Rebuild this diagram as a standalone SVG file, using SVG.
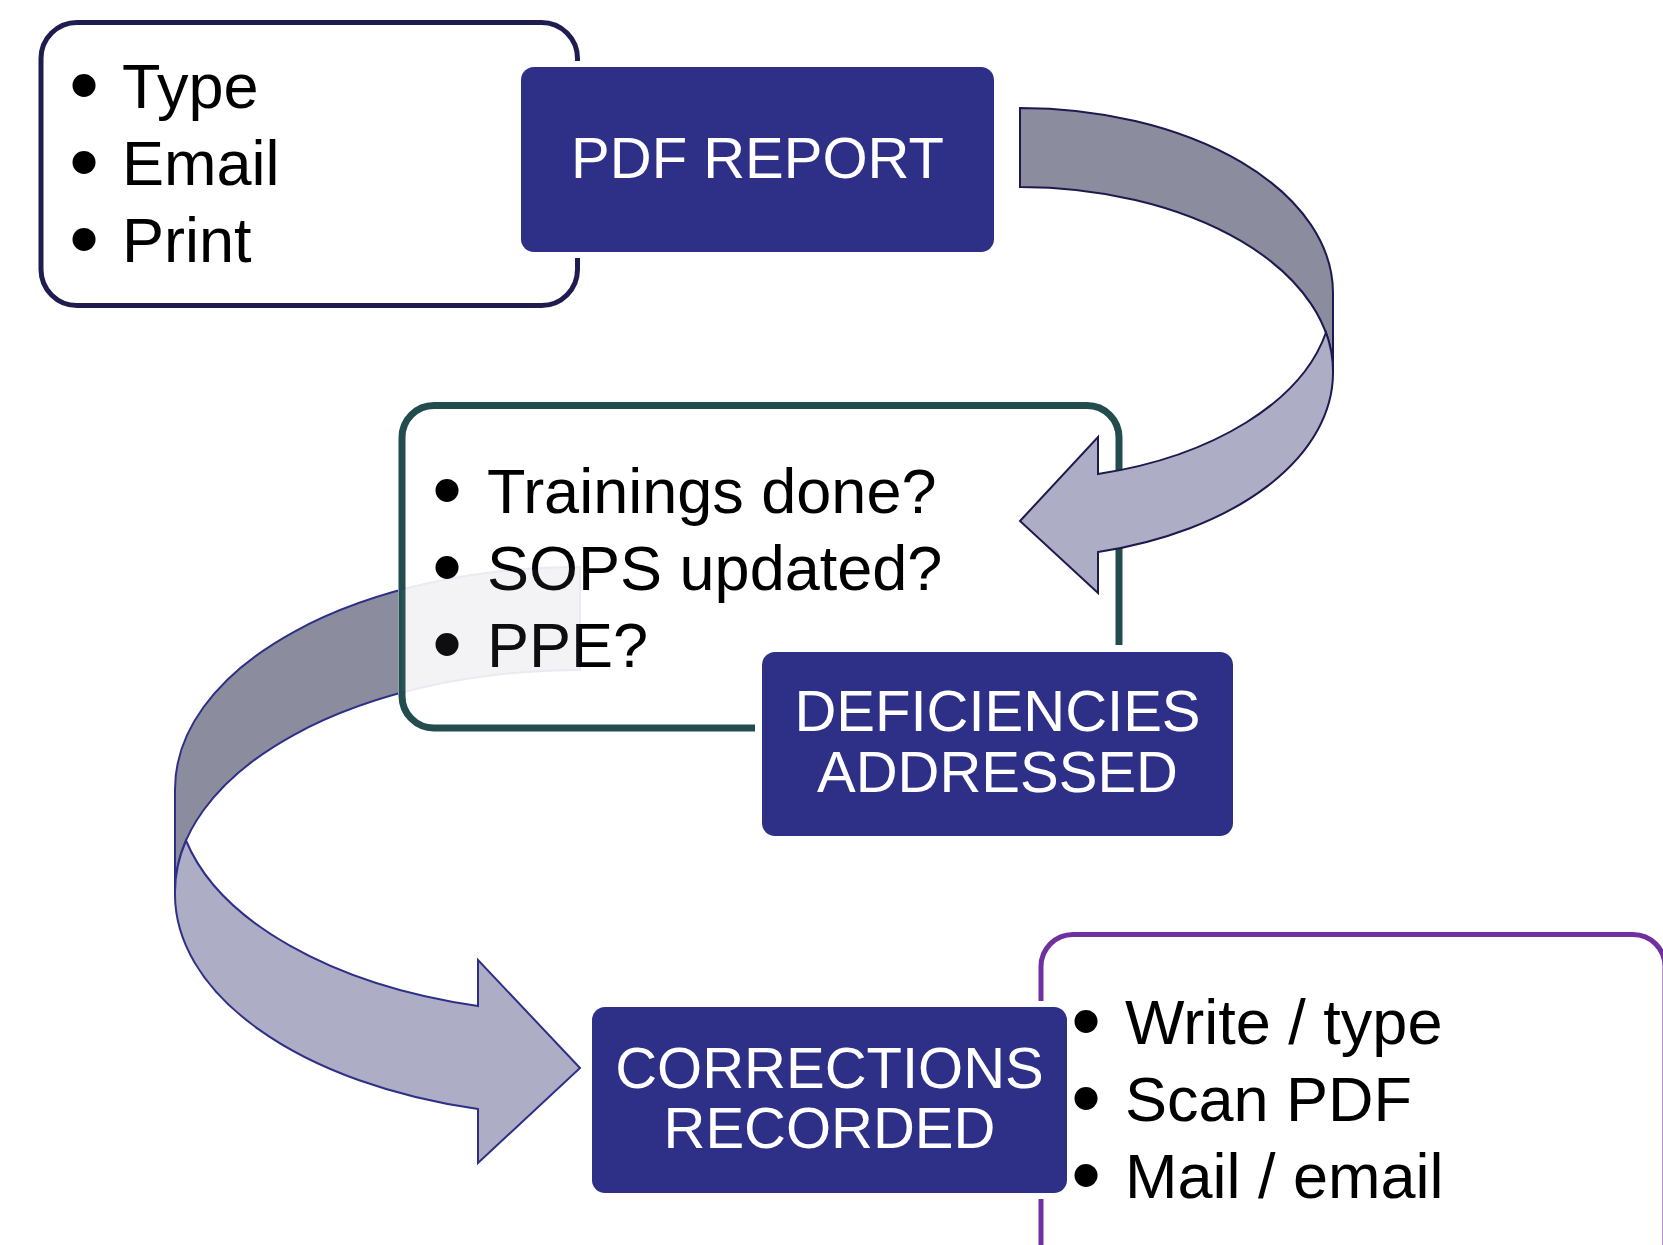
<svg xmlns="http://www.w3.org/2000/svg" width="1663" height="1245" viewBox="0 0 1663 1245">
<defs>
<style>
.li{font-family:"Liberation Sans",Arial,sans-serif;font-size:63px;fill:#000}
.bu{stroke:#000;stroke-width:6;stroke-linejoin:round}
.bt{font-family:"Liberation Sans",Arial,sans-serif;font-size:58px;fill:#fff;text-anchor:middle}
.blue{fill:#2e3088;stroke:#fff;stroke-width:12;paint-order:stroke}
.back{fill:#8b8c9d}
.front{fill:#adaec5}
</style>
<mask id="fade" maskUnits="userSpaceOnUse" x="0" y="0" width="1663" height="1245">
<rect x="0" y="0" width="1663" height="1245" fill="#fff"/>
<rect x="402" y="405.5" width="717" height="322.5" rx="32" fill="#000" stroke="#000" stroke-width="8"/>
<rect x="402" y="405.5" width="717" height="322.5" rx="32" fill="#fff" fill-opacity="0.1"/>
</mask>
</defs>
<rect width="1663" height="1245" fill="#fff"/>

<g id="list-output">
<rect x="41" y="22.5" width="536.5" height="283" rx="36" fill="#fff" stroke="#1f1c50" stroke-width="5"/>
<text class="li" y="108"><tspan class="bu" x="73" dy="-2.5">•</tspan><tspan x="122" dy="2.5">Type</tspan></text>
<text class="li" y="185"><tspan class="bu" x="73" dy="-2.5">•</tspan><tspan x="122" dy="2.5">Email</tspan></text>
<text class="li" y="262"><tspan class="bu" x="73" dy="-2.5">•</tspan><tspan x="122" dy="2.5">Print</tspan></text>
</g>
<g id="pdf-report">
<rect class="blue" x="521" y="67" width="473" height="185" rx="13"/>
<text class="bt" x="757.5" y="178">PDF REPORT</text>
</g>

<g id="list-deficiencies">
<rect x="402" y="405.5" width="717" height="322.5" rx="32" fill="#fff" stroke="#234c4f" stroke-width="7"/>
<text class="li" y="513"><tspan class="bu" x="436" dy="-2.5">•</tspan><tspan x="487" dy="2.5">Trainings done?</tspan></text>
<text class="li" y="590"><tspan class="bu" x="436" dy="-2.5">•</tspan><tspan x="487" dy="2.5">SOPS updated?</tspan></text>
<text class="li" y="667"><tspan class="bu" x="436" dy="-2.5">•</tspan><tspan x="487" dy="2.5">PPE?</tspan></text>
</g>
<g id="deficiencies-addressed">
<rect x="762" y="652" width="471" height="184" rx="13" fill="#2e3088" stroke="#fff" stroke-width="14" paint-order="stroke"/>
<text class="bt" x="997.5" y="731">DEFICIENCIES</text>
<text class="bt" x="997.5" y="792">ADDRESSED</text>
</g>

<g id="list-corrections">
<rect x="1041" y="934.5" width="624" height="400" rx="32" fill="#fff" stroke="#7030a0" stroke-width="5"/>
<text class="li" y="1044"><tspan class="bu" x="1075" dy="-2.5">•</tspan><tspan x="1125" dy="2.5">Write / type</tspan></text>
<text class="li" y="1121"><tspan class="bu" x="1075" dy="-2.5">•</tspan><tspan x="1125" dy="2.5">Scan PDF</tspan></text>
<text class="li" y="1198"><tspan class="bu" x="1075" dy="-2.5">•</tspan><tspan x="1125" dy="2.5">Mail / email</tspan></text>
</g>
<g id="corrections-recorded">
<rect class="blue" x="592" y="1007" width="475" height="186" rx="13"/>
<text class="bt" x="829.5" y="1088">CORRECTIONS</text>
<text class="bt" x="829.5" y="1148">RECORDED</text>
</g>

<g id="connectors" stroke-width="2" stroke-linejoin="miter">
<g id="arrow-report-to-deficiencies" stroke="#1c1a4e">
<path class="back" d="M1020,108 A313,185 0 0 1 1333,293 L1333,372 A313,185 0 0 0 1020,187 Z"/>
<path class="front" d="M1326,332.5 A313,185 0 0 1 1098,474 L1098,437 L1020,521 L1098,593 L1098,552 A313,185 0 0 0 1333,372 A313,185 0 0 0 1326,332.5 Z"/>
</g>
<g id="arrow-deficiencies-to-corrections" stroke="#2e3088" mask="url(#fade)">
<path class="back" d="M580,567 A405,222 0 0 0 175,789 L175,892 A405,222 0 0 1 580,670 Z"/>
<path class="front" d="M186,840.5 A405,222 0 0 0 478,1006 L478,960 L580,1068 L478,1163 L478,1109 A405,222 0 0 1 175,892 A405,222 0 0 1 186,840.5 Z"/>
</g>
</g>
</svg>
